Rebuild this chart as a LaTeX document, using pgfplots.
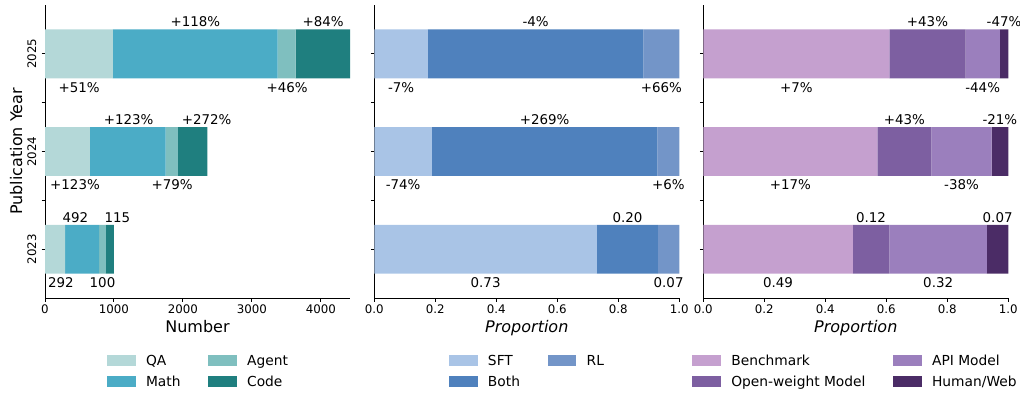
\documentclass[border=0pt]{standalone}
\usepackage{pgfplots}
\pgfplotsset{compat=1.18}
\usepackage{fontspec}
\setmainfont{DejaVu Sans}
\definecolor{cqa}{HTML}{B4D8D8}
\definecolor{cmath}{HTML}{4BACC6}
\definecolor{cagent}{HTML}{7FBFBF}
\definecolor{ccode}{HTML}{1F7F7F}
\definecolor{csft}{HTML}{A9C4E6}
\definecolor{cboth}{HTML}{4F81BD}
\definecolor{crl}{HTML}{7395C8}
\definecolor{cbench}{HTML}{C5A0CF}
\definecolor{copen}{HTML}{7D5FA1}
\definecolor{capi}{HTML}{9B7FBD}
\definecolor{chuman}{HTML}{4B2C66}
\newcommand{\lab}[3]{\node[anchor=base, inner sep=0pt, font=\fontsize{13.4}{16}\selectfont] at (axis cs:#1,#2) {#3};}
\newcommand{\legitem}[2]{\addlegendimage{legend image code/.code={\fill[#1] (0pt,-5pt) rectangle (27.6pt,5pt);}}\addlegendentry{#2}}
\pgfplotsset{
  panel/.style={
    scale only axis, width=305pt, height=293pt, anchor=south west,
    xbar stacked, bar width=0.5,
    ymin=-0.5, ymax=2.5, ytick={0,0.5,1,1.5,2},
    enlargelimits=false, clip=false,
    axis x line*=bottom, axis y line*=left,
    axis line style={-, line width=1pt, black},
    every tick/.style={black, line width=1pt},
    tick align=outside, major tick length=3.5pt,
    tick label style={font=\fontsize{11.8}{14}\selectfont},
    xticklabel style={anchor=base, yshift=-11.7pt, inner sep=0pt},
    yticklabel style={xshift=-5.4pt, rotate=90, anchor=base, inner sep=0pt},
    xlabel style={at={(axis description cs:0.5,-0.1184)}, anchor=base, font=\fontsize{16}{19}\selectfont},
    legend columns=2, legend cell align=left,
    legend style={draw=none, fill=none, inner sep=0pt, outer sep=0pt, anchor=north west,
      font=\fontsize{13.8}{16}\selectfont,
      nodes={inner sep=0pt, text height=10pt, text depth=0pt, anchor=west},
      row sep=11pt,
      /tikz/every odd column/.style={column sep=11pt},
      /tikz/every even column/.style={column sep=27.6pt}},
  }
}
\begin{document}
\begin{tikzpicture}
\useasboundingbox (0pt,0pt) rectangle (1020pt,-394pt);
% Panel 1
\begin{axis}[panel, at={(45pt,-298pt)}, xmin=0, xmax=4423,
  xtick={0,1000,2000,3000,4000}, xticklabels={0,1000,2000,3000,4000},
  yticklabels={2023,,2024,,2025},
  xlabel={Number}, ylabel={Publication Year},
  ylabel style={at={(axis description cs:-0.0754,0.5)}, anchor=base, font=\fontsize{16}{19}\selectfont},
  legend style={at={(0.2033,-0.1945)}}]
\addplot[fill=cqa, draw=none, forget plot] coordinates {(292,0) (651,1) (983,2)};
\addplot[fill=cmath, draw=none, forget plot] coordinates {(492,0) (1097,1) (2392,2)};
\addplot[fill=cagent, draw=none, forget plot] coordinates {(100,0) (179,1) (261,2)};
\addplot[fill=ccode, draw=none, forget plot] coordinates {(115,0) (428,1) (787,2)};
\legitem{cqa}{QA}
\legitem{cagent}{Agent}
\legitem{cmath}{Math}
\legitem{ccode}{Code}
\lab{229}{-0.392}{292}
\lab{442}{0.275}{492}
\lab{834}{-0.392}{100}
\lab{1051}{0.275}{115}
\lab{435}{0.608}{+123\%}
\lab{1214}{1.275}{+123\%}
\lab{1845}{0.608}{+79\%}
\lab{2345}{1.275}{+272\%}
\lab{495}{1.608}{+51\%}
\lab{2182}{2.275}{+118\%}
\lab{3510}{1.608}{+46\%}
\lab{4032}{2.275}{+84\%}
\end{axis}
% Panel 2
\begin{axis}[panel, at={(374.3pt,-298pt)}, xmin=0, xmax=1,
  xtick={0,0.2,0.4,0.6,0.8,1}, xticklabels={0.0,0.2,0.4,0.6,0.8,1.0},
  yticklabels={,,,,},
  xlabel={\itshape Proportion},
  legend style={at={(0.2449,-0.1945)}}]
\addplot[fill=csft, draw=none, forget plot] coordinates {(0.73,0) (0.189,1) (0.176,2)};
\addplot[fill=cboth, draw=none, forget plot] coordinates {(0.20,0) (0.739,1) (0.706,2)};
\addplot[fill=crl, draw=none, forget plot] coordinates {(0.07,0) (0.072,1) (0.118,2)};
\legitem{csft}{SFT}
\legitem{crl}{RL}
\legitem{cboth}{Both}
\lab{0.365}{-0.392}{0.73}
\lab{0.83}{0.275}{0.20}
\lab{0.965}{-0.392}{0.07}
\lab{0.0945}{0.608}{-74\%}
\lab{0.5585}{1.275}{+269\%}
\lab{0.964}{0.608}{+6\%}
\lab{0.088}{1.608}{-7\%}
\lab{0.529}{2.275}{-4\%}
\lab{0.941}{1.608}{+66\%}
\end{axis}
% Panel 3
\begin{axis}[panel, at={(703.3pt,-298pt)}, xmin=0, xmax=1,
  xtick={0,0.2,0.4,0.6,0.8,1}, xticklabels={0.0,0.2,0.4,0.6,0.8,1.0},
  yticklabels={,,,,},
  xlabel={\itshape Proportion},
  legend style={at={(-0.036,-0.1945)}}]
\addplot[fill=cbench, draw=none, forget plot] coordinates {(0.49,0) (0.571,1) (0.610,2)};
\addplot[fill=copen, draw=none, forget plot] coordinates {(0.12,0) (0.177,1) (0.250,2)};
\addplot[fill=capi, draw=none, forget plot] coordinates {(0.32,0) (0.197,1) (0.112,2)};
\addplot[fill=chuman, draw=none, forget plot] coordinates {(0.07,0) (0.055,1) (0.028,2)};
\legitem{cbench}{Benchmark}
\legitem{capi}{API Model}
\legitem{copen}{Open-weight Model}
\legitem{chuman}{Human/Web}
\lab{0.245}{-0.392}{0.49}
\lab{0.55}{0.275}{0.12}
\lab{0.77}{-0.392}{0.32}
\lab{0.965}{0.275}{0.07}
\lab{0.2855}{0.608}{+17\%}
\lab{0.6595}{1.275}{+43\%}
\lab{0.8465}{0.608}{-38\%}
\lab{0.9725}{1.275}{-21\%}
\lab{0.305}{1.608}{+7\%}
\lab{0.735}{2.275}{+43\%}
\lab{0.916}{1.608}{-44\%}
\lab{0.986}{2.275}{-47\%}
\end{axis}
\end{tikzpicture}
\end{document}
